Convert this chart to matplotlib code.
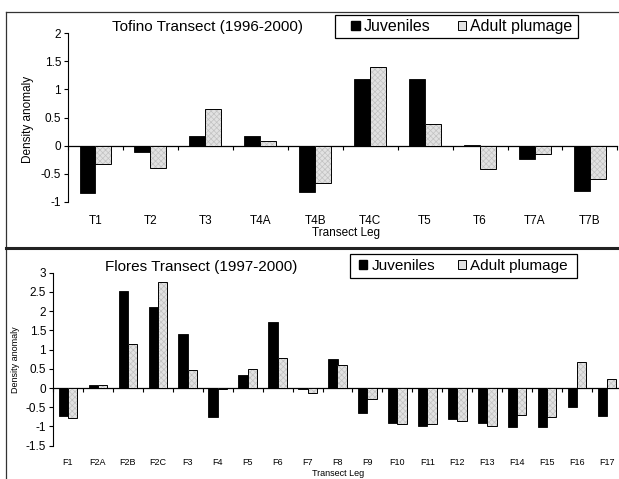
import numpy as np
import matplotlib
matplotlib.use('Agg')
import matplotlib.pyplot as plt
from matplotlib.lines import Line2D
from matplotlib.patches import Patch, Rectangle

plt.rcParams['font.family'] = ['Liberation Sans', 'DejaVu Sans']
plt.rcParams['hatch.linewidth'] = 0.5

# Tofino transect (1996-2000)
tofino_legs = ['T1', 'T2', 'T3', 'T4A', 'T4B', 'T4C', 'T5', 'T6', 'T7A', 'T7B']
tofino_juv = [-0.84, -0.11, 0.18, 0.17, -0.82, 1.19, 1.18, 0.01, -0.24, -0.80]
tofino_adult = [-0.33, -0.39, 0.65, 0.08, -0.67, 1.40, 0.38, -0.42, -0.14, -0.60]

# Flores transect (1997-2000)
flores_legs = ['F1', 'F2A', 'F2B', 'F2C', 'F3', 'F4', 'F5', 'F6', 'F7', 'F8',
               'F9', 'F10', 'F11', 'F12', 'F13', 'F14', 'F15', 'F16', 'F17']
flores_juv = [-0.73, 0.08, 2.52, 2.12, 1.40, -0.75, 0.33, 1.73, -0.03, 0.75,
              -0.65, -0.91, -0.99, -0.80, -0.91, -1.01, -1.01, -0.50, -0.73]
flores_adult = [-0.77, 0.09, 1.14, 2.77, 0.46, -0.03, 0.50, 0.78, -0.12, 0.61,
                -0.28, -0.93, -0.93, -0.85, -0.98, -0.69, -0.75, 0.68, 0.23]

W, H = 619, 479
fig = plt.figure(figsize=(W / 100, H / 100), dpi=100)


def fx(px):
    return px / W


def fy(py):
    return 1 - py / H


def panel(rect, legs, juv, adult, width, ylim, ytick_size, xtick_size):
    ax = fig.add_axes(rect)
    x = np.arange(len(legs))
    ax.bar(x - width / 2, juv, width, color='black', edgecolor='black', linewidth=0.6, zorder=3)
    # checkered light grey fill, then black outline
    ax.bar(x + width / 2, adult, width, color='#e2e2e2', edgecolor='#c2c2c2',
           hatch='xxxxxx', linewidth=0, zorder=3)
    ax.bar(x + width / 2, adult, width, fill=False, edgecolor='black', linewidth=0.7, zorder=4)
    ax.set_xlim(-0.5, len(legs) - 0.5)
    ax.set_ylim(*ylim)
    ticks = np.arange(ylim[0], ylim[1] + 0.01, 0.5)
    ax.set_yticks(ticks)
    ax.set_yticklabels(['%g' % v for v in ticks])
    ax.set_xticks(x)
    ax.set_xticklabels(legs)
    for s in ['top', 'right', 'bottom']:
        ax.spines[s].set_visible(False)
    ax.spines['left'].set_linewidth(0.8)
    ax.tick_params(axis='y', length=3, width=0.8, labelsize=ytick_size, pad=2)
    ax.tick_params(axis='x', length=0, labelsize=xtick_size, pad=9)
    ax.patch.set_alpha(0)
    # zero line with ticks between categories
    sec = ax.secondary_xaxis(0, transform=ax.transData)
    sec.set_xticks(np.arange(len(legs) + 1) - 0.5)
    sec.set_xticklabels([])
    sec.tick_params(length=3, width=0.8)
    sec.spines['bottom'].set_linewidth(0.9)
    return ax


top = panel([fx(68), fy(202), fx(617.4) - fx(68), fy(33) - fy(202)],
            tofino_legs, tofino_juv, tofino_adult, 0.29, (-1, 2), 8.5, 8.5)
bot = panel([fx(53), fy(445.7), fx(622) - fx(53), fy(272.7) - fy(445.7)],
            flores_legs, flores_juv, flores_adult, 0.31, (-1.5, 3), 8.5, 6.5)

fig.text(fx(208), fy(27), 'Tofino Transect (1996-2000)', ha='center', va='center', fontsize=11)
fig.text(fx(201), fy(267), 'Flores Transect (1997-2000)', ha='center', va='center', fontsize=11)
fig.text(fx(28), fy(119), 'Density anomaly', rotation=90, ha='center', va='center', fontsize=8.5)
fig.text(fx(15), fy(360), 'Density anomaly', rotation=90, ha='center', va='center', fontsize=6.5)
fig.text(fx(346), fy(233), 'Transect Leg', ha='center', va='center', fontsize=8.5)
fig.text(fx(338), fy(473), 'Transect Leg', ha='center', va='center', fontsize=6.5)

handles = [Patch(facecolor='black', edgecolor='black'),
           Patch(facecolor='#e2e2e2', edgecolor='black', linewidth=0.7)]
# (box left, top, right, bottom, first handle x, font size, column gap) in pixels
for bx0, by0, bx1, by1, hx, fs, gap in [(335, 15, 578, 38, 351, 11.5, 1.7),
                                        (350, 254, 577, 278, 359, 11, 1.5)]:
    fig.add_artist(Rectangle((fx(bx0), fy(by1)), fx(bx1) - fx(bx0), fy(by0) - fy(by1),
                             fill=False, edgecolor='black', lw=0.9, transform=fig.transFigure))
    fig.legend(handles, ['Juveniles', 'Adult plumage'], loc='center left',
               bbox_to_anchor=(fx(hx), fy((by0 + by1) / 2)), ncol=2, fontsize=fs,
               frameon=False, handlelength=0.55, handleheight=0.55,
               handletextpad=0.25, columnspacing=gap, borderpad=0,
               borderaxespad=0)

# panel borders
fig.add_artist(Line2D([fx(6), 1], [fy(12), fy(12)], color='#333333', lw=0.9, transform=fig.transFigure))
fig.add_artist(Line2D([fx(6), fx(6)], [fy(12), 0], color='#333333', lw=0.9, transform=fig.transFigure))
fig.add_artist(Line2D([fx(6), 1], [fy(248), fy(248)], color='#222222', lw=2.2, transform=fig.transFigure))

fig.savefig('out.png', dpi=100)
